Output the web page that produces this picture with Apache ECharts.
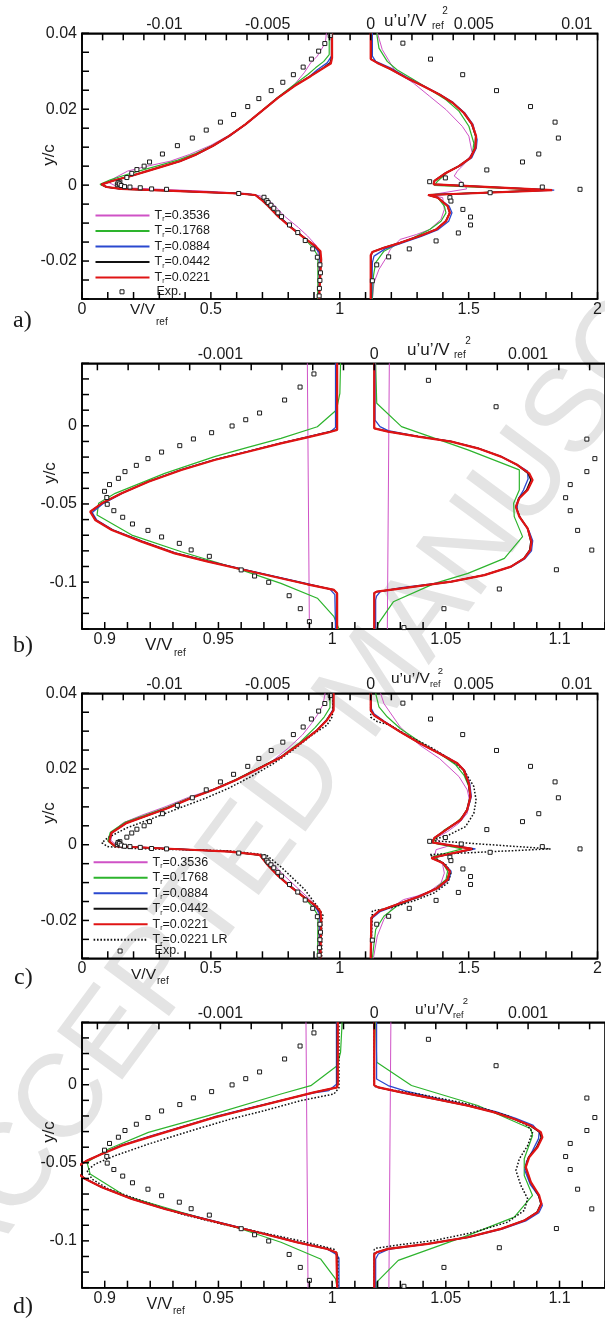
<!DOCTYPE html>
<html><head><meta charset="utf-8">
<script src="https://cdn.jsdelivr.net/npm/echarts@6/dist/echarts.min.js"></script>
<style>html,body{margin:0;padding:0;background:#fff}#c{width:605px;height:1324px}</style>
</head><body><div id="c"></div>
<script>
// ---------- tick labels ----------
const labA_x = [0, 0.5, 1, 1.5, 2];
const labA_top = [-0.01, -0.005, 0, 0.005, 0.01];
const labA_y = [-0.02, 0, 0.02, 0.04];
const labB_x = [0.9, 0.95, 1, 1.05, 1.1];
const labB_top = [-0.001, 0, 0.001];
const labB_y = [-0.1, -0.05, 0];

// ---------- panel a : V/Vref (left) ----------
const aL_m = [[0.948,0.040],[0.944,0.0375],[0.913,0.0340],[0.887,0.0322],[0.862,0.0296],[0.824,0.0265],[0.760,0.0230],[0.697,0.0195],[0.633,0.0160],[0.566,0.0130],[0.500,0.0105],[0.418,0.0081],[0.342,0.0063],[0.253,0.0050],[0.177,0.0037],[0.127,0.0019],[0.101,0.0008],[0.127,-0.0001],[0.165,-0.0007],[0.482,-0.0016],[0.640,-0.0022],[0.690,-0.0028],[0.735,-0.0046],[0.786,-0.0082],[0.840,-0.0112],[0.875,-0.0134],[0.910,-0.0160],[0.915,-0.0178],[0.918,-0.0200],[0.918,-0.030]];
const aL_g = [[0.959,0.040],[0.959,0.0344],[0.938,0.0326],[0.906,0.0309],[0.875,0.0291],[0.824,0.0265],[0.761,0.0232],[0.699,0.0197],[0.636,0.0162],[0.572,0.0131],[0.508,0.0105],[0.440,0.0083],[0.372,0.0066],[0.300,0.0052],[0.230,0.0039],[0.165,0.0026],[0.110,0.0014],[0.070,0.0002],[0.092,-0.0005],[0.152,-0.0010],[0.380,-0.0016],[0.608,-0.0022],[0.676,-0.0027],[0.702,-0.0040],[0.732,-0.0058],[0.770,-0.0086],[0.820,-0.0116],[0.866,-0.0143],[0.897,-0.0166],[0.911,-0.0182],[0.915,-0.0200],[0.915,-0.0257],[0.914,-0.030]];
const aL_b = [[0.970,0.040],[0.970,0.0342],[0.951,0.0322],[0.913,0.0304],[0.880,0.0285],[0.823,0.0261],[0.760,0.0230],[0.698,0.0195],[0.635,0.0160],[0.572,0.0129],[0.509,0.0103],[0.446,0.0081],[0.382,0.0063],[0.318,0.0050],[0.254,0.0037],[0.190,0.0024],[0.127,0.0013],[0.078,0.0002],[0.097,-0.0005],[0.152,-0.0010],[0.380,-0.0016],[0.608,-0.0022],[0.674,-0.0026],[0.698,-0.0038],[0.726,-0.0055],[0.764,-0.0082],[0.815,-0.0112],[0.865,-0.0139],[0.903,-0.0163],[0.920,-0.0178],[0.923,-0.0196],[0.921,-0.0257],[0.919,-0.030]];
const aL_k = [[0.968,0.040],[0.968,0.0335],[0.962,0.0322],[0.936,0.0309],[0.886,0.0287],[0.823,0.0261],[0.759,0.0230],[0.697,0.0195],[0.634,0.0160],[0.570,0.0129],[0.506,0.0103],[0.443,0.0081],[0.379,0.0063],[0.316,0.0050],[0.252,0.0037],[0.189,0.0024],[0.126,0.0013],[0.075,0.0002],[0.095,-0.0005],[0.152,-0.0010],[0.380,-0.0016],[0.608,-0.0022],[0.672,-0.0026],[0.696,-0.0038],[0.724,-0.0055],[0.762,-0.0082],[0.812,-0.0112],[0.863,-0.0139],[0.905,-0.0161],[0.923,-0.0175],[0.926,-0.0196],[0.922,-0.0257],[0.919,-0.030]];
const aL_r = [[0.970,0.040],[0.970,0.0335],[0.965,0.0320],[0.938,0.0309],[0.887,0.0287],[0.824,0.0261],[0.760,0.0230],[0.697,0.0195],[0.634,0.0160],[0.570,0.0129],[0.507,0.0103],[0.444,0.0081],[0.380,0.0063],[0.317,0.0050],[0.253,0.0037],[0.190,0.0024],[0.127,0.0013],[0.076,0.0002],[0.095,-0.0005],[0.152,-0.0010],[0.380,-0.0016],[0.608,-0.0022],[0.672,-0.0026],[0.695,-0.0038],[0.722,-0.0055],[0.760,-0.0082],[0.811,-0.0112],[0.862,-0.0139],[0.906,-0.0161],[0.925,-0.0174],[0.928,-0.0196],[0.923,-0.0257],[0.920,-0.030]];
// ---------- panel a : u'u'/Vref^2 (right) ----------
const aR_m = [[0.00033,0.040],[0.00056,0.0357],[0.00119,0.0300],[0.00207,0.0269],[0.00286,0.0234],[0.00365,0.0199],[0.00444,0.0155],[0.00476,0.0129],[0.00492,0.0085],[0.00460,0.0059],[0.00420,0.0037],[0.00405,0.0024],[0.00436,0.0011],[0.00460,-0.0003],[0.00465,-0.0010],[0.00286,-0.0026],[0.00349,-0.0033],[0.00357,-0.0064],[0.00341,-0.0090],[0.00286,-0.0117],[0.00222,-0.0130],[0.00143,-0.0143],[0.00095,-0.0169],[0.00080,-0.0187],[0.00040,-0.0222],[0.00016,-0.0257],[0.00008,-0.030]];
const aR_g = [[0.00029,0.040],[0.00040,0.0361],[0.00080,0.0326],[0.00127,0.0304],[0.00207,0.0278],[0.00286,0.0252],[0.00365,0.0225],[0.00428,0.0195],[0.00476,0.0155],[0.00500,0.0111],[0.00492,0.0076],[0.00444,0.0054],[0.00373,0.0034],[0.00325,0.0011],[0.00309,-0.0001],[0.00856,-0.0013],[0.00286,-0.0025],[0.00325,-0.0033],[0.00357,-0.0055],[0.00365,-0.0073],[0.00341,-0.0095],[0.00286,-0.0117],[0.00206,-0.0139],[0.00127,-0.0156],[0.00064,-0.0174],[0.00024,-0.0204],[0.00013,-0.0240],[0.00008,-0.030]];
const aR_b = [[0.00008,0.040],[0.00008,0.0340],[0.00024,0.0326],[0.00095,0.0309],[0.00175,0.0284],[0.00254,0.0262],[0.00333,0.0240],[0.00399,0.0218],[0.00455,0.0191],[0.00495,0.0161],[0.00516,0.0120],[0.00512,0.0098],[0.00490,0.0072],[0.00430,0.0050],[0.00365,0.0032],[0.00309,0.0011],[0.00305,0.0002],[0.00890,-0.0013],[0.00278,-0.0026],[0.00325,-0.0033],[0.00380,-0.0055],[0.00394,-0.0073],[0.00378,-0.0095],[0.00327,-0.0117],[0.00245,-0.0135],[0.00150,-0.0153],[0.00070,-0.0168],[0.00016,-0.0187],[0.00008,-0.0204],[0.00005,-0.030]];
const aR_k = [[0.00002,0.040],[0.00002,0.0332],[0.00032,0.0322],[0.00095,0.0306],[0.00175,0.0282],[0.00254,0.0261],[0.00333,0.0239],[0.00397,0.0217],[0.00452,0.0190],[0.00490,0.0160],[0.00509,0.0129],[0.00506,0.0098],[0.00482,0.0072],[0.00426,0.0050],[0.00363,0.0032],[0.00308,0.0011],[0.00304,0.0002],[0.00870,-0.0013],[0.00278,-0.0026],[0.00325,-0.0033],[0.00372,-0.0055],[0.00383,-0.0073],[0.00364,-0.0095],[0.00316,-0.0117],[0.00237,-0.0134],[0.00142,-0.0152],[0.00063,-0.0165],[0.00008,-0.0176],[0.00002,-0.0185],[0.00002,-0.030]];
const aR_r = [[0,0.040],[0,0.0332],[0.00032,0.0322],[0.00095,0.0306],[0.00175,0.0282],[0.00254,0.0261],[0.00333,0.0239],[0.00397,0.0217],[0.00452,0.0190],[0.00492,0.0160],[0.00511,0.0129],[0.00508,0.0098],[0.00484,0.0072],[0.00428,0.0050],[0.00365,0.0032],[0.00309,0.0011],[0.00305,0.0002],[0.00880,-0.0013],[0.00278,-0.0026],[0.00325,-0.0033],[0.00373,-0.0055],[0.00384,-0.0073],[0.00365,-0.0095],[0.00317,-0.0117],[0.00238,-0.0134],[0.00143,-0.0152],[0.00064,-0.0165],[0.00008,-0.0176],[0,-0.0185],[0,-0.030]];
const aExpL = [[0.963,0.0394],[0.942,0.0373],[0.918,0.0353],[0.890,0.0332],[0.858,0.0311],[0.820,0.0291],[0.779,0.0271],[0.734,0.0249],[0.686,0.0228],[0.643,0.0207],[0.588,0.0186],[0.537,0.0166],[0.482,0.0145],[0.428,0.0124],[0.370,0.0104],[0.312,0.0082],[0.262,0.0061],[0.241,0.0050],[0.213,0.0041],[0.193,0.0031],[0.174,0.0020],[0.147,0.0008],[0.142,0.0004],[0.137,0.0001],[0.140,0.0006],[0.145,0.0003],[0.152,-0.0001],[0.165,-0.0004],[0.186,-0.0005],[0.226,-0.0007],[0.270,-0.0010],[0.328,-0.0011],[0.608,-0.0022],[0.706,-0.0032],[0.717,-0.0041],[0.722,-0.0046],[0.733,-0.0053],[0.744,-0.0061],[0.760,-0.0073],[0.774,-0.0083],[0.805,-0.0105],[0.837,-0.0125],[0.866,-0.0146],[0.895,-0.0168],[0.913,-0.0190],[0.923,-0.0210],[0.925,-0.0231],[0.923,-0.0251],[0.921,-0.0272],[0.920,-0.0292]];
const aExpR = [[0.00156,0.0374],[0.00290,0.0332],[0.00446,0.0291],[0.00610,0.0249],[0.00775,0.0207],[0.00894,0.0166],[0.00910,0.0124],[0.00815,0.0082],[0.00736,0.0061],[0.00563,0.0040],[0.00362,0.0019],[0.00286,0.0009],[0.00439,0.0002],[0.00832,-0.0005],[0.01015,-0.0011],[0.00579,-0.0020],[0.00384,-0.0033],[0.00389,-0.0042],[0.00447,-0.0064],[0.00484,-0.0084],[0.00484,-0.0105],[0.00425,-0.0126],[0.00317,-0.0147],[0.00187,-0.0168],[0.00087,-0.0189],[0.00029,-0.0210],[0.00008,-0.0252]];

// ---------- panel b ----------
const bL_m = [[0.9891,0.040],[0.9900,-0.130]];
const bL_g = [[1.0037,0.040],[1.0034,0.0207],[1.0019,0.0101],[0.9935,-0.0006],[0.9775,-0.0080],[0.9629,-0.0138],[0.9483,-0.0197],[0.9264,-0.0304],[0.9046,-0.0432],[0.8973,-0.0496],[0.8966,-0.0571],[0.9119,-0.0699],[0.9337,-0.0806],[0.9600,-0.0922],[0.9775,-0.1008],[0.9935,-0.1103],[1.0008,-0.1221],[1.0030,-0.130]];
const bL_b = [[1.0015,0.040],[1.0015,-0.0010],[0.9995,-0.0035],[0.9950,-0.0050],[0.9891,-0.0070],[0.9775,-0.0110],[0.9629,-0.0164],[0.9483,-0.0216],[0.9337,-0.0280],[0.9195,-0.0355],[0.9080,-0.0430],[0.8995,-0.0496],[0.8945,-0.0555],[0.8965,-0.0603],[0.9036,-0.0665],[0.9165,-0.0738],[0.9310,-0.0813],[0.9456,-0.0866],[0.9602,-0.0915],[0.9748,-0.0963],[0.9895,-0.1012],[0.9990,-0.1045],[1.0012,-0.1080],[1.0015,-0.130]];
const bL_k = [[1.0020,0.040],[1.0020,-0.0025],[0.9977,-0.0043],[0.9890,-0.0073],[0.9774,-0.0111],[0.9628,-0.0165],[0.9482,-0.0218],[0.9336,-0.0282],[0.9191,-0.0357],[0.9075,-0.0431],[0.8988,-0.0495],[0.8938,-0.0549],[0.8960,-0.0603],[0.9032,-0.0666],[0.9163,-0.0740],[0.9309,-0.0815],[0.9455,-0.0868],[0.9601,-0.0917],[0.9746,-0.0965],[0.9892,-0.1013],[1.0006,-0.1049],[1.0020,-0.1070],[1.0020,-0.130]];
const bL_r = [[1.0022,0.040],[1.0022,-0.0027],[0.9979,-0.0044],[0.9891,-0.0074],[0.9775,-0.0112],[0.9629,-0.0166],[0.9483,-0.0219],[0.9337,-0.0283],[0.9192,-0.0358],[0.9075,-0.0432],[0.8987,-0.0496],[0.8936,-0.0549],[0.8958,-0.0603],[0.9031,-0.0667],[0.9162,-0.0741],[0.9308,-0.0816],[0.9454,-0.0869],[0.9600,-0.0918],[0.9745,-0.0966],[0.9891,-0.1014],[1.0008,-0.1050],[1.0022,-0.1072],[1.0022,-0.130]];
const bR_m = [[0.000098,0.040],[0.000085,-0.130]];
const bR_g = [[0.000009,0.040],[0.000016,0.0144],[0.000177,-0.0005],[0.000609,-0.0154],[0.000943,-0.0282],[0.000943,-0.0410],[0.000906,-0.0496],[0.000910,-0.0581],[0.000964,-0.0709],[0.000846,-0.0848],[0.000609,-0.0944],[0.000393,-0.1008],[0.000124,-0.1126],[0.000027,-0.1264],[0.000016,-0.130]];
const bR_b = [[0.000005,0.040],[0.000005,0.0037],[0.000037,-0.0005],[0.00009,-0.0031],[0.000285,-0.0067],[0.000501,-0.0099],[0.000673,-0.0142],[0.000824,-0.0195],[0.000930,-0.0249],[0.000996,-0.0290],[0.001000,-0.0340],[0.000970,-0.0411],[0.000935,-0.0470],[0.000927,-0.0540],[0.000955,-0.0600],[0.001005,-0.0670],[0.001030,-0.0735],[0.001022,-0.0800],[0.000980,-0.0850],[0.000890,-0.0903],[0.000716,-0.0955],[0.000501,-0.0995],[0.000178,-0.1035],[0.000040,-0.1060],[0.000015,-0.1090],[0.000009,-0.1114],[0.000009,-0.130]];
const bR_k = [[0,0.040],[0,-0.0016],[0.00009,-0.0037],[0.000285,-0.0069],[0.000501,-0.0101],[0.000673,-0.0144],[0.000824,-0.0197],[0.000930,-0.0251],[0.001000,-0.0304],[0.001018,-0.0347],[0.000990,-0.0411],[0.000940,-0.0464],[0.000921,-0.0518],[0.000945,-0.0581],[0.000997,-0.0656],[0.001018,-0.0741],[0.001010,-0.0795],[0.000972,-0.0848],[0.000887,-0.0901],[0.000716,-0.0955],[0.000501,-0.0997],[0.000178,-0.1040],[0.000016,-0.1061],[0,-0.1070],[0,-0.130]];
const bR_r = [[0,0.040],[0,-0.0016],[0.00009,-0.0037],[0.000285,-0.0069],[0.000501,-0.0101],[0.000673,-0.0144],[0.000824,-0.0197],[0.000932,-0.0251],[0.001007,-0.0304],[0.001029,-0.0347],[0.000997,-0.0411],[0.000943,-0.0464],[0.000921,-0.0518],[0.000943,-0.0581],[0.000997,-0.0656],[0.001022,-0.0741],[0.001014,-0.0795],[0.000975,-0.0848],[0.000889,-0.0901],[0.000716,-0.0955],[0.000501,-0.0997],[0.000178,-0.1040],[0.000016,-0.1061],[0,-0.1070],[0,-0.130]];
const bExpL = [[0.9920,0.0332],[0.9859,0.0248],[0.9791,0.0165],[0.9681,0.0082],[0.9620,0.0039],[0.9560,-0.0001],[0.9470,-0.0044],[0.9390,-0.0084],[0.9330,-0.0127],[0.9250,-0.0168],[0.9190,-0.0210],[0.9139,-0.0253],[0.9089,-0.0293],[0.9060,-0.0336],[0.9021,-0.0376],[0.8999,-0.0419],[0.9009,-0.0459],[0.9011,-0.0502],[0.9040,-0.0543],[0.9079,-0.0585],[0.9122,-0.0628],[0.9190,-0.0669],[0.9250,-0.0711],[0.9328,-0.0752],[0.9380,-0.0794],[0.9460,-0.0835],[0.9600,-0.0922],[0.9659,-0.0961],[0.9721,-0.1001],[0.9811,-0.1087],[0.9860,-0.1170],[0.9900,-0.1253]];
const bExpR = [[0.000352,0.0291],[0.000792,0.0122],[0.001382,-0.0085],[0.001434,-0.0210],[0.001382,-0.0293],[0.001274,-0.0376],[0.001244,-0.0460],[0.001274,-0.0543],[0.001322,-0.0669],[0.001414,-0.0795],[0.001184,-0.0921],[0.000813,-0.1044],[0.000453,-0.1170],[0.000193,-0.1291]];

// ---------- panel c ----------
const cL_m = [[0.943,0.040],[0.935,0.0370],[0.915,0.0345],[0.890,0.0320],[0.855,0.0290],[0.800,0.0255],[0.745,0.0225],[0.690,0.0200],[0.598,0.0171],[0.505,0.0146],[0.412,0.0125],[0.322,0.0100],[0.232,0.0078],[0.160,0.0058],[0.118,0.0035],[0.112,0.0012],[0.135,-0.0003],[0.385,-0.0012],[0.575,-0.0018],[0.690,-0.0028],[0.738,-0.0050],[0.790,-0.0085],[0.845,-0.0120],[0.880,-0.0142],[0.910,-0.0162],[0.916,-0.0180],[0.918,-0.0200],[0.918,-0.030]];
const cL_g = [[0.962,0.040],[0.962,0.0362],[0.940,0.0338],[0.905,0.0310],[0.845,0.0270],[0.772,0.0233],[0.698,0.0207],[0.596,0.0172],[0.508,0.0146],[0.418,0.0124],[0.330,0.0099],[0.240,0.0077],[0.166,0.0059],[0.110,0.0033],[0.100,0.0010],[0.125,-0.0004],[0.380,-0.0012],[0.572,-0.0018],[0.692,-0.0028],[0.728,-0.0058],[0.768,-0.0086],[0.818,-0.0116],[0.866,-0.0143],[0.897,-0.0166],[0.911,-0.0182],[0.915,-0.0200],[0.914,-0.030]];
const cL_b = [[0.974,0.040],[0.974,0.0357],[0.950,0.0331],[0.913,0.0304],[0.848,0.0269],[0.775,0.0233],[0.701,0.0207],[0.600,0.0172],[0.512,0.0146],[0.424,0.0124],[0.336,0.0098],[0.248,0.0076],[0.174,0.0058],[0.116,0.0032],[0.107,0.0009],[0.128,-0.0004],[0.380,-0.0012],[0.572,-0.0018],[0.690,-0.0027],[0.724,-0.0055],[0.763,-0.0082],[0.814,-0.0112],[0.864,-0.0139],[0.903,-0.0163],[0.920,-0.0180],[0.923,-0.0198],[0.921,-0.030]];
const cL_k = [[0.975,0.040],[0.975,0.0355],[0.949,0.0329],[0.912,0.0303],[0.846,0.0268],[0.773,0.0232],[0.699,0.0206],[0.597,0.0171],[0.509,0.0145],[0.421,0.0123],[0.333,0.0097],[0.245,0.0075],[0.171,0.0057],[0.113,0.0031],[0.105,0.0009],[0.128,-0.0004],[0.380,-0.0012],[0.572,-0.0018],[0.690,-0.0027],[0.723,-0.0055],[0.761,-0.0082],[0.812,-0.0112],[0.863,-0.0139],[0.905,-0.0161],[0.923,-0.0177],[0.926,-0.0196],[0.923,-0.030]];
const cL_r = [[0.976,0.040],[0.976,0.0355],[0.950,0.0329],[0.913,0.0303],[0.847,0.0268],[0.774,0.0232],[0.700,0.0206],[0.598,0.0171],[0.510,0.0145],[0.422,0.0123],[0.334,0.0097],[0.246,0.0075],[0.172,0.0057],[0.114,0.0031],[0.106,0.0009],[0.128,-0.0004],[0.380,-0.0012],[0.572,-0.0018],[0.690,-0.0027],[0.722,-0.0055],[0.760,-0.0082],[0.811,-0.0112],[0.862,-0.0139],[0.906,-0.0161],[0.925,-0.0176],[0.928,-0.0196],[0.925,-0.030]];
const cL_d = [[0.975,0.040],[0.971,0.0338],[0.950,0.0316],[0.891,0.0289],[0.818,0.0250],[0.744,0.0215],[0.656,0.0180],[0.568,0.0149],[0.480,0.0123],[0.378,0.0097],[0.275,0.0070],[0.172,0.0044],[0.099,0.0018],[0.077,0.0005],[0.099,-0.0005],[0.202,-0.0010],[0.568,-0.0016],[0.715,-0.0027],[0.774,-0.0060],[0.862,-0.0117],[0.920,-0.0169],[0.935,-0.0187],[0.930,-0.0204],[0.930,-0.030]];
const cR_m = [[0.00048,0.040],[0.00064,0.0373],[0.00143,0.0311],[0.00238,0.0263],[0.00333,0.0228],[0.00428,0.0180],[0.00468,0.0145],[0.00479,0.0118],[0.00468,0.0083],[0.00428,0.0057],[0.00373,0.0035],[0.00317,0.0018],[0.00341,0.0003],[0.00373,-0.0004],[0.00317,-0.0013],[0.00309,-0.0031],[0.00349,-0.0053],[0.00357,-0.0075],[0.00341,-0.0101],[0.00286,-0.0123],[0.00222,-0.0136],[0.00159,-0.0145],[0.00111,-0.0162],[0.00064,-0.0197],[0.00032,-0.0241],[0.00013,-0.030]];
const cR_g = [[0.00024,0.040],[0.00040,0.0364],[0.00080,0.0338],[0.00143,0.0307],[0.00238,0.0272],[0.00333,0.0241],[0.00412,0.0211],[0.00452,0.0184],[0.00476,0.0154],[0.00484,0.0118],[0.00460,0.0083],[0.00420,0.0061],[0.00357,0.0039],[0.00309,0.0013],[0.00317,0.0003],[0.00444,-0.0011],[0.00301,-0.0031],[0.00349,-0.0048],[0.00373,-0.0070],[0.00365,-0.0092],[0.00309,-0.0118],[0.00222,-0.0140],[0.00127,-0.0162],[0.00064,-0.0189],[0.00024,-0.0224],[0.00008,-0.030]];
const cR_b = [[0.00003,0.040],[0.00003,0.0360],[0.00016,0.0346],[0.00064,0.0327],[0.00143,0.0299],[0.00238,0.0269],[0.00335,0.0242],[0.00422,0.0215],[0.00455,0.0197],[0.00480,0.0162],[0.00488,0.0127],[0.00470,0.0092],[0.00440,0.0066],[0.00367,0.0039],[0.00309,0.0018],[0.00298,0.0006],[0.00508,-0.0011],[0.00294,-0.0035],[0.00352,-0.0048],[0.00390,-0.0070],[0.00380,-0.0092],[0.00330,-0.0114],[0.00245,-0.0136],[0.00135,-0.0158],[0.00045,-0.0177],[0.00005,-0.0195],[0.00003,-0.030]];
const cR_k = [[0.00001,0.040],[0.00001,0.0355],[0.00016,0.0342],[0.00064,0.0325],[0.00143,0.0298],[0.00238,0.0268],[0.00333,0.0241],[0.00418,0.0215],[0.00450,0.0197],[0.00474,0.0162],[0.00482,0.0127],[0.00466,0.0092],[0.00435,0.0066],[0.00364,0.0039],[0.00309,0.0018],[0.00298,0.0006],[0.00495,-0.0011],[0.00294,-0.0035],[0.00349,-0.0048],[0.00383,-0.0070],[0.00372,-0.0092],[0.00324,-0.0114],[0.00237,-0.0136],[0.00126,-0.0158],[0.00040,-0.0175],[0.00003,-0.0193],[0.00001,-0.030]];
const cR_r = [[0,0.040],[0,0.0355],[0.00016,0.0342],[0.00064,0.0325],[0.00143,0.0298],[0.00238,0.0268],[0.00333,0.0241],[0.00420,0.0215],[0.00452,0.0197],[0.00476,0.0162],[0.00484,0.0127],[0.00468,0.0092],[0.00437,0.0066],[0.00365,0.0039],[0.00309,0.0018],[0.00298,0.0006],[0.00492,-0.0011],[0.00294,-0.0035],[0.00349,-0.0048],[0.00384,-0.0070],[0.00373,-0.0092],[0.00325,-0.0114],[0.00238,-0.0136],[0.00127,-0.0158],[0.00040,-0.0175],[0.00003,-0.0193],[0,-0.030]];
const cR_d = [[0,0.040],[0,0.0337],[0.00032,0.0325],[0.00095,0.0316],[0.00174,0.0290],[0.00286,0.0259],[0.00380,0.0228],[0.00452,0.0197],[0.00500,0.0154],[0.00511,0.0118],[0.00500,0.0083],[0.00460,0.0048],[0.00380,0.0026],[0.00294,0.0011],[0.00872,-0.0011],[0.00286,-0.0026],[0.00365,-0.0053],[0.00389,-0.0075],[0.00373,-0.0101],[0.00309,-0.0127],[0.00206,-0.0149],[0.00095,-0.0167],[0.00008,-0.0175],[0,-0.0180],[0,-0.030]];

// ---------- panel d ----------
const dL_m = [[0.9885,0.040],[0.9894,-0.130]];
const dL_g = [[1.0044,0.040],[1.0037,0.0207],[1.0022,0.0122],[0.9906,-0.0006],[0.9775,-0.0059],[0.9483,-0.0187],[0.9192,-0.0305],[0.9017,-0.0412],[0.8922,-0.0497],[0.8936,-0.0572],[0.9089,-0.0711],[0.9337,-0.0817],[0.9600,-0.0924],[0.9775,-0.1009],[0.9949,-0.1116],[1.0015,-0.1244],[1.0022,-0.130]];
const dL_b = [[1.0019,0.040],[1.0019,0.0003],[0.9986,-0.0037],[0.9920,-0.0052],[0.9775,-0.0100],[0.9629,-0.0152],[0.9483,-0.0205],[0.9337,-0.0270],[0.9192,-0.0333],[0.9075,-0.0386],[0.8990,-0.0440],[0.8925,-0.0484],[0.8880,-0.0520],[0.8880,-0.0570],[0.8912,-0.0600],[0.8985,-0.0654],[0.9117,-0.0729],[0.9262,-0.0793],[0.9408,-0.0847],[0.9554,-0.0900],[0.9700,-0.0953],[0.9845,-0.1007],[0.9975,-0.1050],[1.0015,-0.1084],[1.0030,-0.1110],[1.0030,-0.130]];
const dL_k = [[1.0023,0.040],[1.0023,0.0005],[1.0020,-0.0017],[0.9918,-0.0049],[0.9773,-0.0102],[0.9627,-0.0155],[0.9481,-0.0209],[0.9335,-0.0273],[0.9190,-0.0337],[0.9073,-0.0390],[0.8986,-0.0444],[0.8921,-0.0486],[0.8885,-0.0519],[0.8885,-0.0572],[0.8916,-0.0604],[0.8988,-0.0657],[0.9121,-0.0732],[0.9266,-0.0796],[0.9412,-0.0850],[0.9558,-0.0903],[0.9704,-0.0956],[0.9849,-0.1010],[0.9981,-0.1052],[1.0020,-0.1076],[1.0023,-0.130]];
const dL_r = [[1.0025,0.040],[1.0025,0.0005],[1.0022,-0.0017],[0.9920,-0.0049],[0.9775,-0.0102],[0.9629,-0.0155],[0.9483,-0.0209],[0.9337,-0.0273],[0.9192,-0.0337],[0.9075,-0.0390],[0.8987,-0.0444],[0.8922,-0.0486],[0.8885,-0.0519],[0.8885,-0.0572],[0.8915,-0.0604],[0.8987,-0.0657],[0.9119,-0.0732],[0.9264,-0.0796],[0.9410,-0.0850],[0.9556,-0.0903],[0.9702,-0.0956],[0.9847,-0.1010],[0.9979,-0.1052],[1.0019,-0.1074],[1.0022,-0.130]];
const dL_d = [[1.0030,0.040],[1.0030,-0.0020],[1.0008,-0.0059],[0.9862,-0.0102],[0.9702,-0.0166],[0.9556,-0.0219],[0.9381,-0.0294],[0.9192,-0.0380],[0.9046,-0.0454],[0.8958,-0.0508],[0.8922,-0.0550],[0.8944,-0.0604],[0.9017,-0.0668],[0.9162,-0.0743],[0.9337,-0.0828],[0.9512,-0.0892],[0.9687,-0.0946],[0.9862,-0.1000],[1.0008,-0.1053],[1.0025,-0.1096],[1.0025,-0.130]];
const dR_m = [[0.000108,0.040],[0.000095,-0.130]];
const dR_g = [[0.000009,0.040],[0.000016,0.0144],[0.000242,-0.0005],[0.000673,-0.0133],[0.001018,-0.0282],[0.001029,-0.0325],[0.000975,-0.0474],[0.000975,-0.0581],[0.001029,-0.0709],[0.000910,-0.0848],[0.000609,-0.0965],[0.000156,-0.1125],[0.000016,-0.1264],[0.000016,-0.130]];
const dR_b = [[0.000015,0.040],[0.000015,0.0037],[0.00009,-0.0005],[0.000200,-0.0040],[0.000400,-0.0086],[0.000615,-0.0130],[0.000790,-0.0172],[0.000920,-0.0215],[0.001030,-0.0258],[0.001072,-0.0304],[0.001068,-0.0345],[0.001030,-0.0420],[0.000990,-0.0490],[0.000979,-0.0549],[0.001015,-0.0640],[0.001070,-0.0715],[0.001093,-0.0773],[0.001070,-0.0820],[0.000985,-0.0872],[0.000830,-0.0925],[0.000612,-0.0978],[0.000350,-0.1019],[0.000091,-0.1055],[0.000026,-0.1084],[0.000009,-0.1116],[0.000009,-0.130]];
const dR_k = [[0,0.040],[0,-0.0004],[0.000027,-0.0017],[0.000177,-0.0049],[0.000393,-0.0091],[0.000609,-0.0134],[0.000781,-0.0177],[0.000908,-0.0219],[0.001012,-0.0262],[0.001075,-0.0304],[0.001085,-0.0336],[0.001055,-0.0400],[0.001003,-0.0464],[0.000983,-0.0528],[0.001016,-0.0624],[0.001068,-0.0709],[0.001083,-0.0763],[0.001058,-0.0816],[0.000973,-0.0870],[0.000822,-0.0923],[0.000607,-0.0977],[0.000348,-0.1019],[0.000090,-0.1051],[0.000016,-0.1073],[0,-0.1085],[0,-0.130]];
const dR_r = [[0,0.040],[0,-0.0004],[0.000027,-0.0017],[0.000177,-0.0049],[0.000393,-0.0091],[0.000609,-0.0134],[0.000781,-0.0177],[0.000910,-0.0219],[0.001018,-0.0262],[0.001083,-0.0304],[0.001093,-0.0336],[0.001061,-0.0400],[0.001007,-0.0464],[0.000985,-0.0528],[0.001018,-0.0624],[0.001072,-0.0709],[0.001087,-0.0763],[0.001061,-0.0816],[0.000975,-0.0870],[0.000824,-0.0923],[0.000609,-0.0977],[0.000350,-0.1019],[0.000091,-0.1051],[0.000016,-0.1073],[0,-0.1085],[0,-0.130]];
const dR_d = [[0,0.040],[0,-0.0010],[0.00009,-0.0031],[0.000285,-0.0059],[0.000609,-0.0123],[0.000867,-0.0198],[0.000997,-0.0262],[0.001029,-0.0304],[0.000997,-0.0390],[0.000943,-0.0475],[0.000921,-0.0549],[0.000953,-0.0645],[0.000997,-0.0730],[0.000975,-0.0805],[0.000867,-0.0880],[0.000652,-0.0944],[0.000393,-0.0997],[0.000134,-0.1029],[0.000016,-0.1046],[0,-0.1055],[0,-0.130]];

// ---------- build ----------
const FF = '"Liberation Sans", Arial, Helvetica, sans-serif';
const TXT = '#1a1a1a';
const STY = {
  m:{name:'Tr=0.3536', color:'#cf52c6', width:1},
  g:{name:'Tr=0.1768', color:'#2db42d', width:1.2},
  b:{name:'Tr=0.0884', color:'#2a48cf', width:1.3},
  k:{name:'Tr=0.0442', color:'#111111', width:1.5},
  d:{name:'Tr=0.0221 LR', color:'#111111', width:1.5, type:[1.6,1.8]},
  r:{name:'Tr=0.0221', color:'#e01414', width:2.2}
};
const ORDER = ['m','g','b','k','d','r'];
function rng(a,b,s){const o=[];const n=Math.round((b-a)/s);for(let i=0;i<=n;i++)o.push(+(a+i*s).toFixed(7));return o;}

const AX_A = {x:{min:0,max:2,step:0.1,from:0,labels:labA_x},
              t:{min:-0.014,max:0.011,step:0.001,from:-0.014,labels:labA_top},
              y:{min:-0.03,max:0.04,step:0.005,from:-0.03,labels:labA_y}};
const AX_B = {x:{min:0.89,max:1.12,step:0.01,from:0.89,labels:labB_x},
              t:{min:-0.0019,max:0.0015,step:0.0002,from:-0.0018,labels:labB_top},
              y:{min:-0.13,max:0.04,step:0.01,from:-0.13,labels:labB_y}};

const panels = [
  {grid:{left:82,width:526,top:33.3,height:265.7}, ax:AX_A,
   L:{m:aL_m,g:aL_g,b:aL_b,k:aL_k,r:aL_r}, R:{m:aR_m,g:aR_g,b:aR_b,k:aR_k,r:aR_r}, eL:aExpL, eR:aExpR},
  {grid:{left:82,width:526,top:363.3,height:265.7}, ax:AX_B,
   L:{m:bL_m,g:bL_g,b:bL_b,k:bL_k,r:bL_r}, R:{m:bR_m,g:bR_g,b:bR_b,k:bR_k,r:bR_r}, eL:bExpL, eR:bExpR},
  {grid:{left:82,width:526,top:693.3,height:265}, ax:AX_A,
   L:{m:cL_m,g:cL_g,b:cL_b,k:cL_k,d:cL_d,r:cL_r}, R:{m:cR_m,g:cR_g,b:cR_b,k:cR_k,d:cR_d,r:cR_r}, eL:aExpL, eR:aExpR},
  {grid:{left:82,width:526,top:1022.3,height:265.4}, ax:AX_B,
   L:{m:dL_m,g:dL_g,b:dL_b,k:dL_k,d:dL_d,r:dL_r}, R:{m:dR_m,g:dR_g,b:dR_b,k:dR_k,d:dR_d,r:dR_r}, eL:bExpL, eR:bExpR}
];

const grid=[], xAxis=[], yAxis=[], series=[];
function axisOf(gi, spec, margin, pos){
  return {type:'value', gridIndex:gi, position:pos, min:spec.min, max:spec.max,
    splitLine:{show:false},
    axisLine:{show:true, onZero:false, lineStyle:{color:'#000', width:1.6}},
    axisTick:{show:false},
    axisLabel:{customValues:spec.labels, fontFamily:FF, fontSize:16, color:TXT, margin,
      formatter:v=>String(+(+v).toFixed(6))}};
}
panels.forEach((p,i)=>{
  grid.push(Object.assign({show:true, borderColor:'#000', borderWidth:1.6, backgroundColor:'transparent'}, p.grid));
  xAxis.push(axisOf(i, p.ax.x, 2.5, 'bottom'));
  xAxis.push(axisOf(i, p.ax.t, 0.5, 'top'));
  yAxis.push(axisOf(i, p.ax.y, 5, 'left'));
  ['L','R'].forEach(side=>{
    ORDER.forEach(k=>{
      const d = p[side][k]; if(!d) return;
      const s = STY[k];
      series.push({type:'line', name:s.name, xAxisIndex: side==='L'?2*i:2*i+1, yAxisIndex:i,
        data:d, showSymbol:false, symbol:'none', silent:true, animation:false, clip:true,
        lineStyle:{color:s.color, width:s.width, type:s.type||'solid'}, itemStyle:{color:s.color},
        z: 2 + ORDER.indexOf(k)*0.1});
    });
  });
  [['eL',2*i],['eR',2*i+1]].forEach(([key,xi])=>{
    series.push({type:'scatter', name:'Exp.', xAxisIndex:xi, yAxisIndex:i, data:p[key],
      symbol:'rect', symbolSize:4, silent:true, animation:false, z:5,
      itemStyle:{color:'#ffffff', borderColor:'#1a1a1a', borderWidth:1, opacity:1}});
  });
});

const legRich = {
  a:{fontFamily:FF, fontSize:12.5, color:TXT, lineHeight:14},
  e:{fontFamily:FF, fontSize:12.5, color:TXT, lineHeight:14, padding:[0,0,0,27.5]},
  s:{fontFamily:FF, fontSize:7, color:TXT, lineHeight:14, padding:[8,0,0,0]}
};
const legFmt = n => n.indexOf('Tr')===0 ? '{a|T}{s|r}{a|'+n.slice(2)+'}' : '{e|'+n+'}';
function legendLines(names, left, top){
  return {data:names, orient:'vertical', left, top, itemWidth:54, itemHeight:14, itemGap:0.5, padding:0,
    selectedMode:false, formatter:legFmt, itemStyle:{opacity:0},
    textStyle:{rich:legRich, fontFamily:FF, fontSize:12.5, color:TXT}};
}
function legendExp(left, top){
  return {data:[{name:'Exp.', icon:'rect'}], orient:'vertical', left, top, itemWidth:4, itemHeight:4, padding:0,
    selectedMode:false, formatter:legFmt,
    itemStyle:{color:'#ffffff', borderColor:'#1a1a1a', borderWidth:1},
    textStyle:{rich:legRich, fontFamily:FF, fontSize:12.5, color:TXT}};
}
const legend = [
  legendLines([STY.m.name,STY.g.name,STY.b.name,STY.k.name,STY.r.name], 94.5, 208),
  legendExp(119.5, 285.3),
  legendLines([STY.m.name,STY.g.name,STY.b.name,STY.k.name,STY.r.name,STY.d.name], 92.6, 854.7),
  legendExp(117.6, 944.5)
];

function T(text, x, y, size, opt){
  opt = opt || {};
  return {type:'text', x, y, rotation:opt.rot||0, z:opt.z||10, silent:true,
    style:{text, font:(opt.font||(size+'px '+FF)), fill:opt.fill||TXT,
      align:opt.align||'left', verticalAlign:'middle', textAlign:opt.align||'left', textVerticalAlign:'middle'}};
}
const SERIF = '"Liberation Serif", "DejaVu Serif", serif';
const graphic = [
  {type:'text', x:375, y:683, rotation:0.934, z:-10, silent:true,
    style:{text:'ACCEPTED MANUSCRIPT', font:'118px '+FF, fill:'#e4e4e4', align:'center', verticalAlign:'middle', textAlign:'center', textVerticalAlign:'middle'}},
  T('a)',13,321,0,{font:'24px '+SERIF}),
  T('V/V',130,310,15.5), T('ref',156,322,10),
  T('y/c',49,155,17,{rot:Math.PI/2, align:'center'}),
  T('u\u2019u\u2019/V',384,21,17), T('ref',432,26.5,10), T('2',445,11,10,{align:'center'}),
  T('b)',13,646,0,{font:'24px '+SERIF}),
  T('V/V',145,645,17), T('ref',174,653,10),
  T('y/c',50,473,17,{rot:Math.PI/2, align:'center'}),
  T('u\u2019u\u2019/V',407,350,17), T('ref',454,355.5,10), T('2',468,341,10,{align:'center'}),
  T('c)',14,978,0,{font:'24px '+SERIF}),
  T('V/V',131,975,15.5), T('ref',157,981.5,10),
  T('y/c',49,813,17,{rot:Math.PI/2, align:'center'}),
  T('u\u2019u\u2019/V',391,679,15.5), T('ref',430,685,9), T('2',440.5,671,9.5,{align:'center'}),
  T('d)',13,1307,0,{font:'24px '+SERIF}),
  T('V/V',146.5,1305,16), T('ref',173,1311.5,10),
  T('y/c',49,1132,17,{rot:Math.PI/2, align:'center'}),
  T('u\u2019u\u2019/V',415,1010,15.5), T('ref',453,1016,9), T('2',465.5,1001,9.5,{align:'center'})
];

const chart = echarts.init(document.getElementById('c'), null, {renderer:'canvas'});
chart.setOption({backgroundColor:'#ffffff', animation:false, grid, xAxis, yAxis, series, legend, graphic});

// inward tick marks, positioned through the axes' own scales (convertToPixel)
const tickEls = [];
function tk(x1,y1,x2,y2){ tickEls.push({type:'line', z:50, silent:true, shape:{x1,y1,x2,y2}, style:{stroke:'#000', lineWidth:1.5}}); }
panels.forEach((p,i)=>{
  const ax = p.ax, L = 7;
  const yb = chart.convertToPixel({yAxisIndex:i}, ax.y.min);
  const yt = chart.convertToPixel({yAxisIndex:i}, ax.y.max);
  const xl = chart.convertToPixel({xAxisIndex:2*i}, ax.x.min);
  rng(ax.x.from, ax.x.max, ax.x.step).forEach(v=>{ const x = chart.convertToPixel({xAxisIndex:2*i}, v); if (isFinite(x)) tk(x, yb, x, yb-L); });
  rng(ax.t.from, ax.t.max, ax.t.step).filter(v=>v<=ax.t.max).forEach(v=>{ const x = chart.convertToPixel({xAxisIndex:2*i+1}, v); if (isFinite(x)) tk(x, yt, x, yt+L); });
  rng(ax.y.from, ax.y.max, ax.y.step).forEach(v=>{ const y = chart.convertToPixel({yAxisIndex:i}, v); if (isFinite(y)) tk(xl, y, xl+L, y); });
});
chart.setOption({graphic: graphic.concat(tickEls)});
</script>
</body></html>
